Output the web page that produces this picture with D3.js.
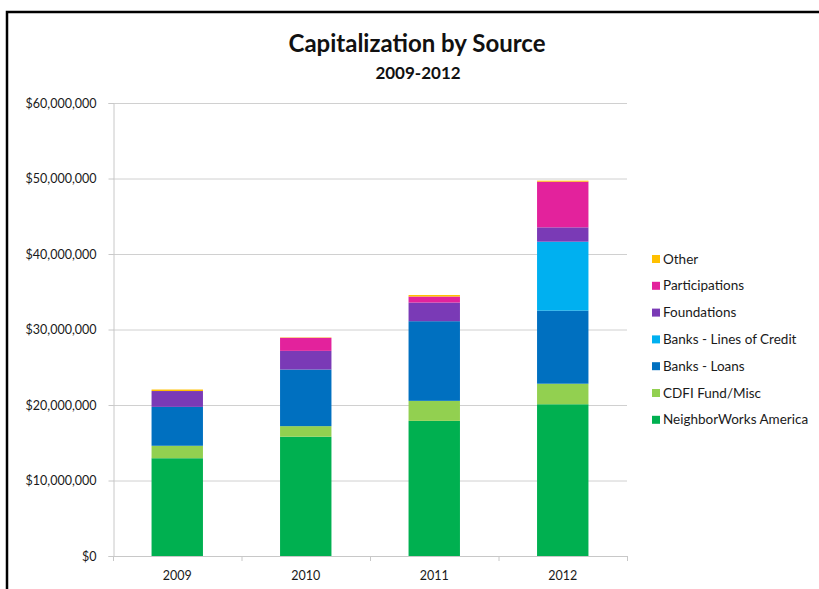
<!DOCTYPE html>
<html><head><meta charset="utf-8">
<script src="https://cdn.jsdelivr.net/npm/d3@7"></script>
<style>body{margin:0;background:#fff}svg{display:block}text{font-family:Lato,"Open Sans",sans-serif}</style>
</head><body><svg id="c" width="819" height="589"></svg>
<script>
const years = ["2009","2010","2011","2012"];
const seriesNames = ["NeighborWorks America","CDFI Fund/Misc","Banks - Loans","Banks - Lines of Credit","Foundations","Participations","Other"];
const seriesColors = ["#00b050","#92d050","#0070c0","#00b0f0","#7a3ab6","#e3229c","#ffc000"];
const neighborWorks = [12950000,15800000,17900000,20100000];
const cdfiFund = [1650000,1400000,2650000,2720000];
const bankLoans = [5150000,7500000,10550000,9680000];
const bankLines = [0,0,0,9130000];
const foundations = [2100000,2470000,2470000,1900000];
const participations = [0,1730000,800000,6050000];
const other = [200000,50000,200000,130000];
const yTicks = [0,10000000,20000000,30000000,40000000,50000000,60000000];

const seriesValues = [neighborWorks,cdfiFund,bankLoans,bankLines,foundations,participations,other];
const rows = years.map((y,i)=>{const r={year:y}; seriesNames.forEach((s,k)=>r[s]=seriesValues[k][i]); return r;});
const stack = d3.stack().keys(seriesNames)(rows);

const svg = d3.select("#c");
svg.append("path").attr("d","M7,589 V12 H819").attr("fill","none").attr("stroke","#000").attr("stroke-width",2.5);

const pLeft=113, pRight=627, pTop=103, pBottom=556;
const x = d3.scaleBand().domain(years).range([pLeft,pRight]).paddingInner(0.6).paddingOuter(0.3);
const y = d3.scaleLinear().domain([0,60000000]).range([pBottom,pTop]);

svg.append("g").selectAll("line").data(yTicks.slice(1)).join("line")
  .attr("x1",pLeft).attr("x2",pRight).attr("y1",d=>y(d)+0.5).attr("y2",d=>y(d)+0.5)
  .attr("stroke","#d0d0d0").attr("stroke-width",1);

const fmt = d=> "$"+d3.format(",")(d);
const ya = svg.append("g").attr("transform",`translate(${pLeft+0.5},0)`)
  .call(d3.axisLeft(y).tickValues(yTicks).tickFormat(fmt).tickSize(5).tickPadding(12));
ya.select(".domain").attr("stroke","#c8c8c8");
ya.selectAll(".tick line").attr("stroke","#c8c8c8");
ya.selectAll("text").attr("font-size",12.5).attr("fill","#1a1a1a").attr("font-family","Lato,sans-serif");

svg.append("g").selectAll("g").data(stack).join("g")
  .attr("fill",(d,i)=>seriesColors[i])
  .selectAll("rect").data(d=>d).join("rect")
  .attr("x",d=>x(d.data.year)).attr("width",x.bandwidth())
  .attr("y",d=>y(d[1])).attr("height",d=>Math.max(0,y(d[0])-y(d[1])));

const band = (pRight-pLeft)/years.length;
const xg = svg.append("g");
xg.append("line").attr("x1",pLeft).attr("x2",pRight).attr("y1",pBottom+0.5).attr("y2",pBottom+0.5).attr("stroke","#c8c8c8");
xg.selectAll("line.t").data(d3.range(years.length+1)).join("line").attr("class","t")
  .attr("x1",i=>pLeft+i*band+0.5).attr("x2",i=>pLeft+i*band+0.5).attr("y1",pBottom).attr("y2",pBottom+5).attr("stroke","#c8c8c8");
xg.selectAll("text").data(years).join("text")
  .attr("x",d=>x(d)+x.bandwidth()/2).attr("y",580).attr("text-anchor","middle")
  .attr("font-size",12.5).attr("fill","#1a1a1a").text(d=>d);

svg.append("text").attr("x",417).attr("y",52).attr("text-anchor","middle").attr("font-size",24).attr("font-weight","bold").attr("fill","#111").text("Capitalization by Source");
svg.append("text").attr("x",418).attr("y",79).attr("text-anchor","middle").attr("font-size",17).attr("font-weight","bold").attr("fill","#111").text("2009-2012");

const legOrder = seriesNames.map((s,i)=>i).reverse();
const lg = svg.append("g").selectAll("g").data(legOrder).join("g")
  .attr("transform",(d,j)=>`translate(652,${259+j*26.8})`);
lg.append("rect").attr("x",0).attr("y",-4).attr("width",8).attr("height",8).attr("fill",d=>seriesColors[d]);
lg.append("text").attr("x",11).attr("y",4.5).attr("font-size",13.5).attr("fill","#1a1a1a").text(d=>seriesNames[d]);
</script></body></html>
